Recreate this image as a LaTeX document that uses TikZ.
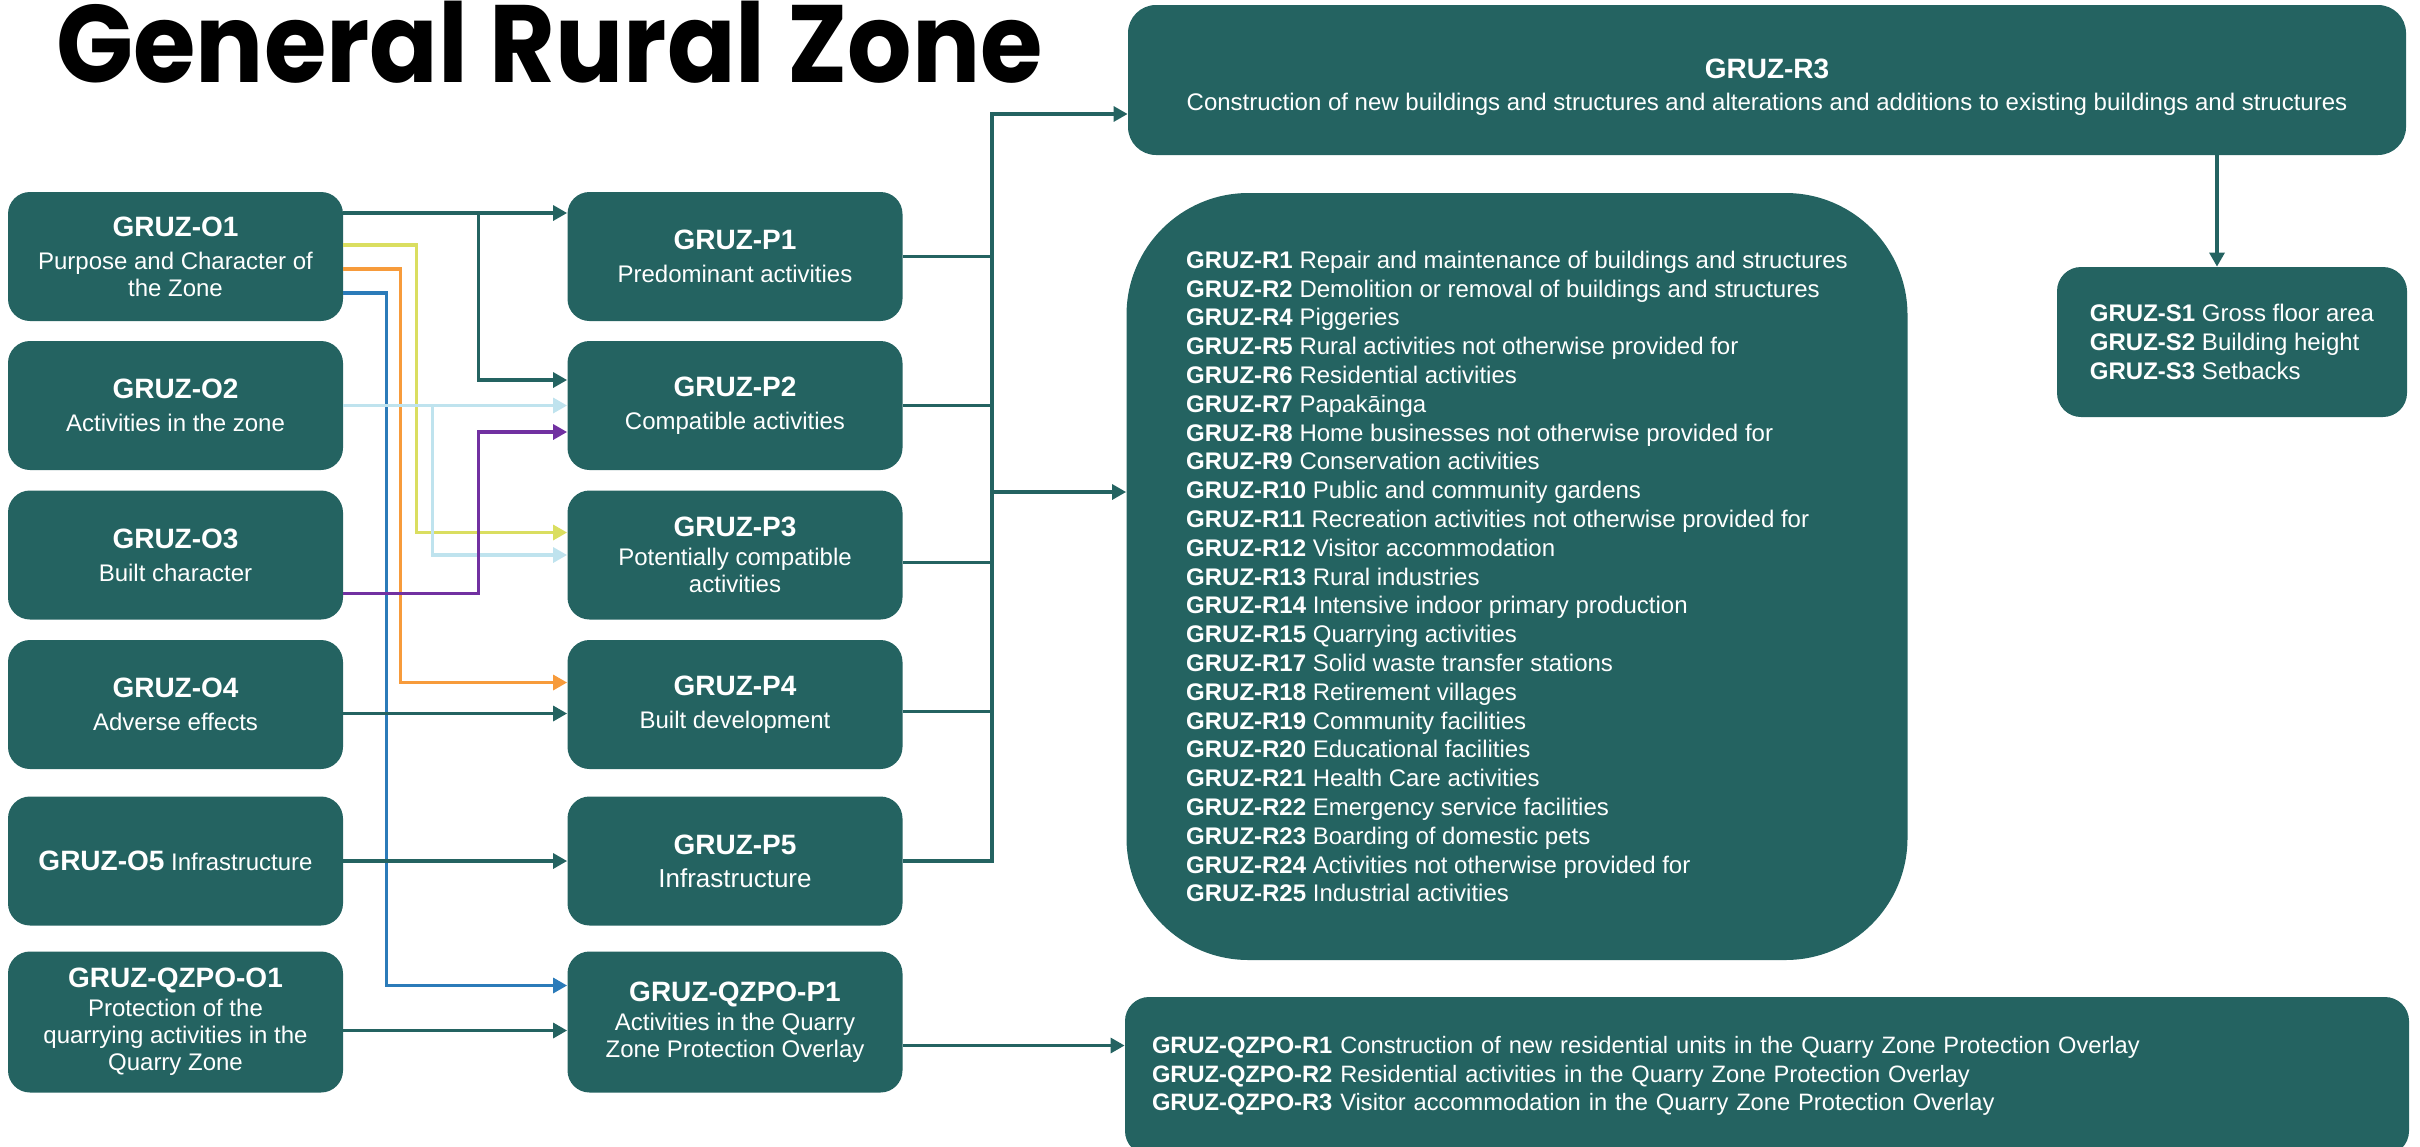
\documentclass[tikz,border=0pt]{standalone}
\usepackage{fontspec}
\setmainfont{Liberation Sans}
\newfontfamily\titlefont{Poppins}[FakeStretch=0.92]
\usetikzlibrary{positioning,arrows.meta}
\definecolor{gruzteal}{HTML}{246361}
\definecolor{gruzyellow}{HTML}{DADE60}
\definecolor{gruzorange}{HTML}{F79B3B}
\definecolor{gruzblue}{HTML}{2B7BB9}
\definecolor{gruzpale}{HTML}{BFE3EE}
\definecolor{gruzpurple}{HTML}{7131A1}
\newcommand{\gruzhead}[1]{{\fontsize{14}{16}\selectfont\bfseries #1}}
\tikzset{
>={Triangle[length=7pt,width=7.5pt]},
  zone/.style={
    rectangle,
    rounded corners=11pt,
    fill=gruzteal,
    text=white,
    minimum width=167.5pt,
    minimum height=64.5pt,
    inner sep=2pt,
    align=center,
    font=\fontsize{12}{13.5}\selectfont},
  rulebox/.style={
    rectangle,
    rounded corners=12pt,
    fill=gruzteal,
    text=white,
    align=left,
    font=\fontsize{12}{14.4}\selectfont},
  line/.style={draw=gruzteal, line width=1.6pt},
  conn/.style={line, ->},
}

\begin{document}
\begin{tikzpicture}
[x=0.5pt, y=-0.5pt, node distance=74.5pt]
\useasboundingbox (0,0) rectangle (2420,1146);

    \node [anchor=base west, inner sep=0pt, font=\titlefont\fontsize{55}{60}\selectfont\bfseries](title) at (56,82) {General Rural Zone};

    % objectives
    \node [zone](O1) at (175.5,256.5) {\gruzhead{GRUZ-O1}\\[3pt]Purpose and Character of\\the Zone};
    \node [zone, below of=O1](O2) {\gruzhead{GRUZ-O2}\\[3pt]Activities in the zone};
    \node [zone, below of=O2, node distance=74.75pt](O3) {\gruzhead{GRUZ-O3}\\[3pt]Built character};
    \node [zone, below of=O3, node distance=74.75pt](O4) {\gruzhead{GRUZ-O4}\\[3pt]Adverse effects};
    \node [zone, below of=O4, node distance=78.25pt](O5) {\gruzhead{GRUZ-O5} Infrastructure};
    \node [zone, below of=O5, node distance=80.5pt, minimum height=70.5pt](QO1) {\gruzhead{GRUZ-QZPO-O1}\\[1pt]Protection of the\\quarrying activities in the\\Quarry Zone};

    % policies
    \node [zone, right of=O1, node distance=279.75pt](P1) {\gruzhead{GRUZ-P1}\\[3pt]Predominant activities};
    \node [zone, right of=O2, node distance=279.75pt](P2) {\gruzhead{GRUZ-P2}\\[3pt]Compatible activities};
    \node [zone, right of=O3, node distance=279.75pt](P3) {\gruzhead{GRUZ-P3}\\[1pt]Potentially compatible\\activities};
    \node [zone, right of=O4, node distance=279.75pt](P4) {\gruzhead{GRUZ-P4}\\[3pt]Built development};
    \node [zone, right of=O5, node distance=279.75pt](P5) {\gruzhead{GRUZ-P5}\\[3pt]{\fontsize{13}{15}\selectfont Infrastructure}};
    \node [zone, right of=QO1, node distance=279.75pt, minimum height=70.5pt](QP1) {\gruzhead{GRUZ-QZPO-P1}\\[1pt]Activities in the Quarry\\Zone Protection Overlay};

    % rules and standards
    \node [rulebox, align=center, rounded corners=14pt, minimum width=639pt, minimum height=75pt](R3) at (1767,80) {\rule{0pt}{17pt}\gruzhead{GRUZ-R3}\\[2pt]{\fontsize{12}{14}\selectfont Construction of new buildings and structures and alterations and additions to existing buildings and structures}};
    \node [rulebox, rounded corners=61pt, minimum width=390.5pt, minimum height=383.5pt](RL) at (1517,576.5) {%
      \textbf{GRUZ-R1} Repair and maintenance of buildings and structures\\
      \textbf{GRUZ-R2} Demolition or removal of buildings and structures\\
      \textbf{GRUZ-R4} Piggeries\\
      \textbf{GRUZ-R5} Rural activities not otherwise provided for\\
      \textbf{GRUZ-R6} Residential activities\\
      \textbf{GRUZ-R7} Papakāinga\\
      \textbf{GRUZ-R8} Home businesses not otherwise provided for\\
      \textbf{GRUZ-R9} Conservation activities\\
      \textbf{GRUZ-R10} Public and community gardens\\
      \textbf{GRUZ-R11} Recreation activities not otherwise provided for\\
      \textbf{GRUZ-R12} Visitor accommodation\\
      \textbf{GRUZ-R13} Rural industries\\
      \textbf{GRUZ-R14} Intensive indoor primary production\\
      \textbf{GRUZ-R15} Quarrying activities\\
      \textbf{GRUZ-R17} Solid waste transfer stations\\
      \textbf{GRUZ-R18} Retirement villages\\
      \textbf{GRUZ-R19} Community facilities\\
      \textbf{GRUZ-R20} Educational facilities\\
      \textbf{GRUZ-R21} Health Care activities\\
      \textbf{GRUZ-R22} Emergency service facilities\\
      \textbf{GRUZ-R23} Boarding of domestic pets\\
      \textbf{GRUZ-R24} Activities not otherwise provided for\\
      \textbf{GRUZ-R25} Industrial activities};
    \node [rulebox, minimum width=175pt, minimum height=75pt](S) at (2232,342) {%
      \textbf{GRUZ-S1} Gross floor area\\
      \textbf{GRUZ-S2} Building height\\
      \textbf{GRUZ-S3} Setbacks};
    \node [rulebox, text width=615pt, inner xsep=13.5pt, minimum height=79pt, font=\fontsize{11.85}{14.4}\selectfont](QR) at (1767,1076) {%
      \textbf{GRUZ-QZPO-R1} Construction of new residential units in the Quarry Zone Protection Overlay\\
      \textbf{GRUZ-QZPO-R2} Residential activities in the Quarry Zone Protection Overlay\\
      \textbf{GRUZ-QZPO-R3} Visitor accommodation in the Quarry Zone Protection Overlay};

    % objectives -> policies
    \draw[conn] ([yshift=21.75pt]O1.east) -- ([yshift=21.75pt]P1.west);
    \draw[conn] ([yshift=21.75pt]O1.east) -- ++(135,0) |- ([yshift=12.75pt]P2.west);
    \draw[conn, draw=gruzyellow] ([yshift=5.75pt]O1.east) -- ++(73,0) |- ([yshift=11.25pt]P3.west);
    \draw[conn, draw=gruzorange] ([yshift=-6.25pt]O1.east) -- ++(57,0) |- ([yshift=11pt]P4.west);
    \draw[conn, draw=gruzblue] ([yshift=-18.25pt]O1.east) -- ++(43,0) |- ([yshift=18.25pt]QP1.west);
    \draw[conn, draw=gruzpale] (O2.east) -- (P2.west);
    \draw[conn, draw=gruzpale] (O2.east) -- ++(89,0) |- (P3.west);
    \draw[conn, draw=gruzpurple] ([yshift=-19.25pt]O3.east) -- ++(135,0) |- ([yshift=-13.25pt]P2.west);
    \draw[conn] ([yshift=-4.5pt]O4.east) -- ([yshift=-4.5pt]P4.west);
    \draw[conn] (O5.east) -- (P5.west);
    \draw[conn] ([yshift=-4.25pt]QO1.east) -- ([yshift=-4.25pt]QP1.west);

    % policies -> rules
    \draw[conn] (P5.east) -- ++(89,0) |- ([yshift=-17pt]R3.west);
    \draw[line] (P1.east) -- ++(89,0);
    \draw[line] (P2.east) -- ++(89,0);
    \draw[line] ([yshift=-3.75pt]P3.east) -- ++(89,0);
    \draw[line] ([yshift=-3.5pt]P4.east) -- ++(89,0);
    \draw[conn] (P1.east) ++(89,0) |- ([yshift=42.25pt]RL.west);
    \coordinate (qp) at ([yshift=-11.75pt]QP1.east);
    \draw[conn] (qp) -- (qp -| QR.west);

    % rule -> standards
    \coordinate (stop) at ([xshift=-7.5pt]S.north);
    \draw[conn] (stop |- R3.south) -- (stop);

\end{tikzpicture}
\end{document}
